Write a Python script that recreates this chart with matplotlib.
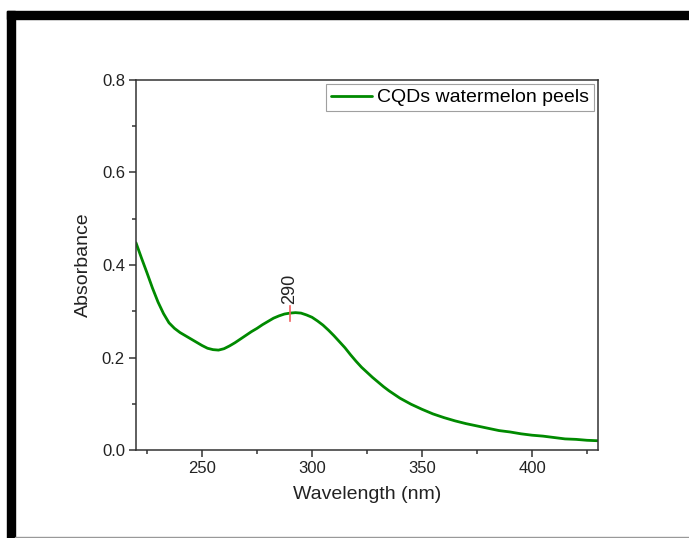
import matplotlib
matplotlib.use("Agg")
import matplotlib.pyplot as plt
from matplotlib.patches import Rectangle
from matplotlib.ticker import MultipleLocator, FormatStrFormatter

plt.rcParams['font.family'] = ['Liberation Sans', 'DejaVu Sans']

# UV-Vis absorbance spectrum
wavelength = [220, 222.5, 225, 227.5, 230, 232.5, 235, 237.5, 240, 242.5, 245,
              247.5, 250, 252.5, 255, 257.5, 260, 262.5, 265, 267.5, 270,
              272.5, 275, 277.5, 280, 282.5, 285, 287.5, 290, 292.5, 295,
              297.5, 300, 302.5, 305, 307.5, 310, 312.5, 315, 317.5, 320,
              322.5, 325, 327.5, 330, 332.5, 335, 337.5, 340, 345, 350, 355,
              360, 365, 370, 375, 380, 385, 390, 395, 400, 405, 410, 415, 420,
              425, 430]
absorbance = [0.448, 0.415, 0.383, 0.350, 0.320, 0.295, 0.275, 0.263, 0.254,
              0.247, 0.240, 0.233, 0.226, 0.220, 0.217, 0.216, 0.219, 0.225,
              0.232, 0.240, 0.248, 0.256, 0.263, 0.271, 0.278, 0.285, 0.290,
              0.294, 0.296, 0.297, 0.296, 0.292, 0.287, 0.279, 0.270, 0.259,
              0.247, 0.234, 0.221, 0.206, 0.192, 0.179, 0.168, 0.157, 0.147,
              0.137, 0.128, 0.120, 0.112, 0.099, 0.088, 0.078, 0.070, 0.063,
              0.057, 0.052, 0.047, 0.042, 0.039, 0.035, 0.032, 0.030, 0.027,
              0.024, 0.023, 0.021, 0.020]
series_label = "CQDs watermelon peels"
peak_wavelength = 290
peak_absorbance = 0.296

fig = plt.figure(figsize=(6.89, 5.38), dpi=100)

# frame around the figure
fig.patches.append(Rectangle((7 / 689, 0), 8 / 689, 1 - 11 / 538,
                             transform=fig.transFigure, color='black', zorder=0))
fig.patches.append(Rectangle((7 / 689, 1 - 19 / 538), 1, 8 / 538,
                             transform=fig.transFigure, color='black', zorder=0))
fig.patches.append(Rectangle((15 / 689, 0), 1, 1.5 / 538,
                             transform=fig.transFigure, color='#999999', zorder=0))

ax = fig.add_axes([136 / 689, 88 / 538, 462 / 689, 370 / 538])
ax.plot(wavelength, absorbance, color='#008a00', lw=2.0, label=series_label,
        solid_joinstyle='round', solid_capstyle='round')

# peak marker
ax.plot([peak_wavelength, peak_wavelength],
        [peak_absorbance - 0.016, peak_absorbance + 0.016],
        color='#f06060', lw=1.2)
ax.text(peak_wavelength, peak_absorbance + 0.019, str(peak_wavelength),
        rotation=90, ha='center', va='bottom', fontsize=13, color='#222222')

ax.set_xlim(220, 430)
ax.set_ylim(0, 0.8)
ax.xaxis.set_major_locator(MultipleLocator(50))
ax.xaxis.set_minor_locator(MultipleLocator(25))
ax.yaxis.set_major_locator(MultipleLocator(0.2))
ax.yaxis.set_minor_locator(MultipleLocator(0.1))
ax.yaxis.set_major_formatter(FormatStrFormatter('%.1f'))

for s in ax.spines.values():
    s.set_color('#333333')
    s.set_linewidth(1.1)
ax.tick_params(which='major', direction='out', length=5, width=1.1,
               color='#333333', labelsize=12, labelcolor='#222222', pad=3)
ax.tick_params(which='minor', direction='out', length=3, width=1.1,
               color='#333333')

ax.set_xlabel("Wavelength (nm)", fontsize=14, color='#222222', labelpad=7)
ax.set_ylabel("Absorbance", fontsize=14, color='#222222', labelpad=7)

leg = ax.legend(loc='upper right', fontsize=14, frameon=True, fancybox=False,
                handlelength=2.15, handletextpad=0.25, borderpad=0.25,
                borderaxespad=0.2)
leg.get_frame().set_edgecolor('#888888')
leg.get_frame().set_linewidth(0.8)

fig.savefig("out.png", dpi=100)
